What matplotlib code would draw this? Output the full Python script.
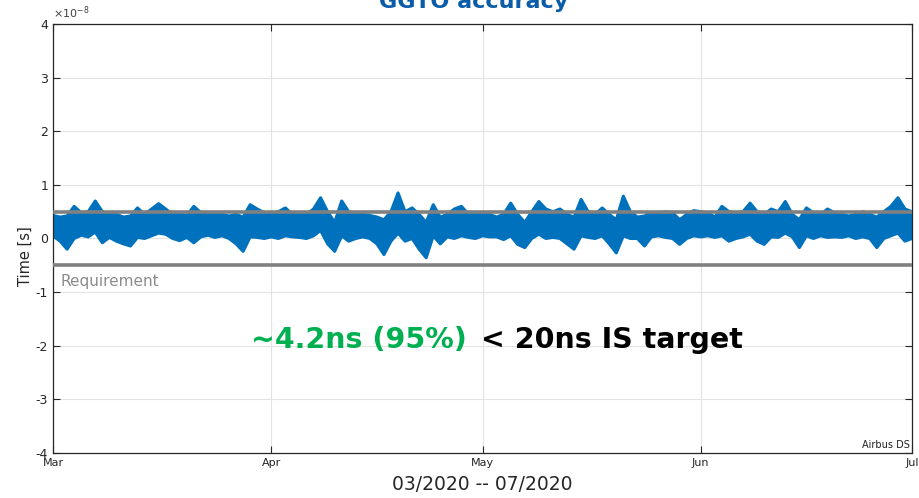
import numpy as np
import pandas as pd
import matplotlib
matplotlib.use("Agg")
import matplotlib.pyplot as plt
from matplotlib.ticker import FuncFormatter

plt.rcParams['axes.unicode_minus'] = False
plt.rcParams['font.family'] = ['DejaVu Sans']

# daily envelope of the GGTO offset, in ns
hi_ns = [4.3, 4.0, 4.2, 6.0, 4.8, 5.0, 7.0, 5.0, 4.5, 4.5,
         4.0, 4.2, 5.7, 4.5, 5.5, 6.5, 5.5, 4.5, 4.6, 4.3,
         6.0, 4.8, 4.5, 4.7, 4.5, 4.2, 4.5, 4.0, 6.3, 5.5,
         4.8, 4.5, 5.0, 5.7, 4.5, 4.8, 4.5, 5.5, 7.6, 5.0,
         3.0, 7.0, 5.0, 4.5, 4.5, 4.3, 4.0, 3.5, 5.0, 8.5,
         5.0, 5.7, 4.5, 3.0, 6.3, 4.0, 4.5, 5.5, 6.0, 4.5,
         4.8, 4.5, 4.5, 4.0, 4.5, 6.6, 4.5, 3.0, 5.0, 6.9,
         5.5, 5.0, 5.5, 4.5, 4.0, 7.3, 5.0, 4.5, 5.7, 4.5,
         3.5, 7.9, 5.0, 4.0, 4.2, 4.8, 4.7, 5.0, 4.8, 3.5,
         4.5, 5.2, 5.0, 4.8, 4.0, 6.0, 5.0, 4.8, 5.0, 6.6,
         5.0, 4.5, 5.5, 5.0, 6.9, 4.5, 3.5, 5.7, 4.8, 4.5,
         5.5, 4.8, 4.5, 4.2, 4.5, 5.0, 4.5, 4.0, 5.0, 6.0,
         7.6, 5.5, 5.0]
lo_ns = [0.5, -0.5, -2.0, 0.0, 0.6, 0.3, 1.2, -0.8, 0.2, -0.5,
         -1.0, -1.4, 0.2, 0.0, 0.5, 1.0, 0.8, 0.0, -0.4, 0.2,
         -0.8, 0.3, 0.6, 0.2, 0.5, 0.0, -1.0, -2.4, 0.3, 0.2,
         0.0, 0.3, 0.0, 0.5, 0.3, 0.2, 0.0, 0.5, 1.5, -1.0,
         -2.4, 0.5, -0.5, 0.0, 0.3, 0.0, -1.0, -3.0, -0.5, 1.0,
         -0.5, 0.0, -2.0, -3.6, 0.5, -1.0, 0.3, 0.0, 0.5, 0.2,
         0.0, 0.5, 0.3, 0.3, -0.2, 0.5, -1.1, -1.7, 0.0, 0.8,
         0.0, 0.2, 0.0, -1.0, -2.0, 0.5, 0.2, 0.0, 0.5, -1.0,
         -2.7, 0.5, 0.0, 0.0, -1.4, 0.3, 0.5, 0.2, 0.0, -1.1,
         0.0, 0.5, 0.3, 0.5, 0.2, 0.5, -0.5, 0.0, 0.3, 0.8,
         -0.5, -1.1, 0.3, 0.2, 1.0, 0.3, -1.7, 0.5, 0.0, 0.5,
         0.2, 0.3, 0.2, 0.5, 0.0, 0.3, 0.0, -1.7, 0.0, 0.5,
         1.0, -0.5, 0.0]
dates = pd.date_range("2020-03-01", periods=len(hi_ns), freq="D")
requirement = 5e-9
month_ticks = pd.to_datetime(["2020-03-01", "2020-04-01", "2020-05-01",
                              "2020-06-01", "2020-07-01"])
month_labels = ["Mar", "Apr", "May", "Jun", "Jul"]

hi = np.array(hi_ns) * 1e-9
lo = np.array(lo_ns) * 1e-9
blue = "#0072bd"
grey = "#808080"

fig = plt.figure(figsize=(9.19, 4.98), dpi=100)
ax = fig.add_axes([0.0577, 0.0904, 0.9347, 0.8614])

# envelope band, edges drawn thick so the outline looks like dense samples
ax.fill_between(dates, lo, hi, color=blue, lw=0, zorder=2)
ax.plot(dates, hi, color=blue, lw=2.2, solid_joinstyle='round', zorder=2)
ax.plot(dates, lo, color=blue, lw=2.2, solid_joinstyle='round', zorder=2)
ax.axhline(requirement, color=grey, lw=2.6, zorder=3)
ax.axhline(-requirement, color=grey, lw=2.6, zorder=3)

ax.set_xlim(month_ticks[0], month_ticks[-1])
ax.set_ylim(-4e-8, 4e-8)
ax.set_xticks(month_ticks)
ax.set_xticklabels(month_labels)
ax.set_yticks(np.arange(-4, 5) * 1e-8)
ax.yaxis.set_major_formatter(FuncFormatter(lambda v, p: "%d" % round(v / 1e-8)))
ax.text(0.0, 1.008, r"$\times 10^{\mathregular{-8}}$", transform=ax.transAxes,
        fontsize=8, color="#404040", ha='left', va='bottom')

ax.grid(True, color="#e3e3e3", lw=0.8, zorder=0)
ax.tick_params(direction='in', top=True, right=True, length=5, width=0.8,
               colors="#262626", labelsize=8)
ax.tick_params(axis='y', labelsize=9)
for s in ax.spines.values():
    s.set_color("#262626")
    s.set_linewidth(0.9)

ax.set_ylabel("Time [s]", fontsize=10.5, color="#262626")
ax.yaxis.set_label_coords(-0.023, 0.46)
ax.set_xlabel("03/2020 -- 07/2020", fontsize=13.5, color="#262626", labelpad=5)

ax.text(month_ticks[0] + pd.Timedelta(days=1), -0.8e-8, "Requirement",
        color="#8c8c8c", fontsize=11, va='center', ha='left')
ax.text(0.997, 0.008, "Airbus DS", transform=ax.transAxes, fontsize=7,
        ha='right', va='bottom', color="#222222")

fig.text(467 / 919, 1 - 340 / 498, "~4.2ns (95%)", color="#00b050",
         fontsize=20.5, fontweight='bold', ha='right', va='center')
fig.text(481 / 919, 1 - 340 / 498, "< 20ns IS target", color="black",
         fontsize=20.5, fontweight='bold', ha='left', va='center')

fig.text(474 / 919, 1 - 8 / 498, "GGTO accuracy", color="#0a5ca8",
         fontsize=16, fontweight='bold', ha='center', va='baseline')

fig.savefig("out.png", dpi=100)
